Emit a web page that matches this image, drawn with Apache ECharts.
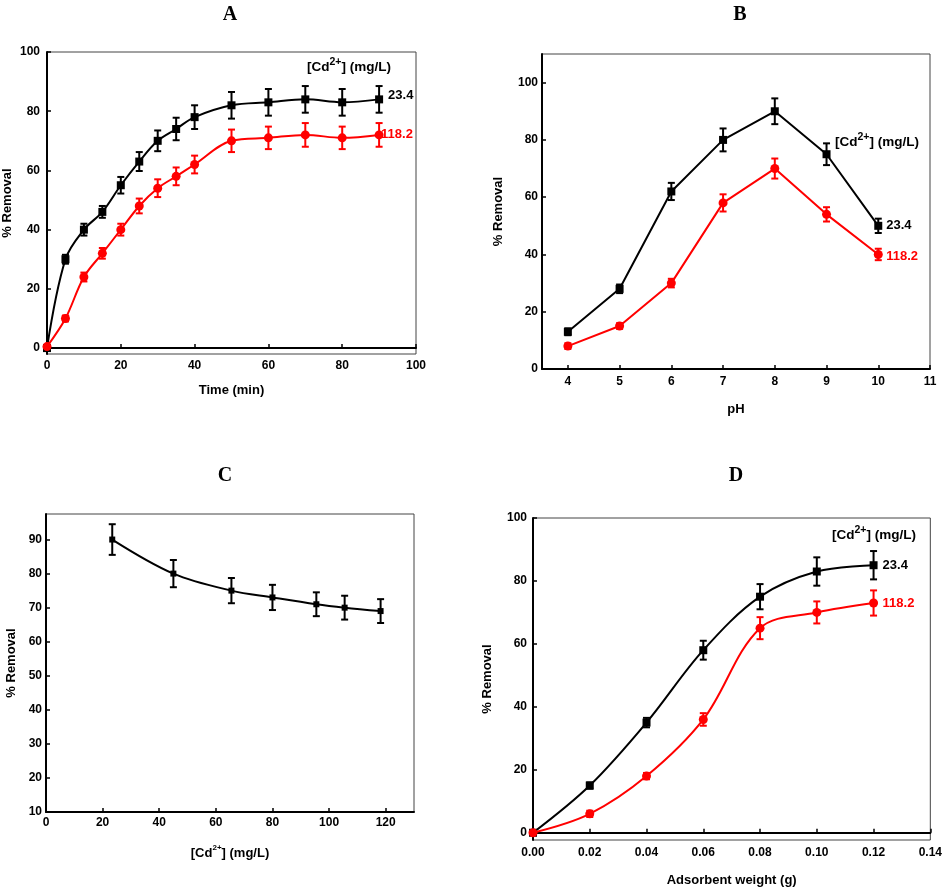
<!DOCTYPE html>
<html><head><meta charset="utf-8">
<script src="https://cdn.jsdelivr.net/npm/echarts@6/dist/echarts.min.js"></script>
<style>html,body{margin:0;padding:0;background:#fff}#c{width:945px;height:888px}</style>
</head><body><div id="c"></div>
<script>
// ---- Panel A: contact time ----
const timeA = [0, 5, 10, 15, 20, 25, 30, 35, 40, 50, 60, 70, 80, 90];
const removalA_low = [0, 30, 40, 46, 55, 63, 70, 74, 78, 82, 83, 84, 83, 84];
const errA_low = [0.5, 1.5, 2, 2, 2.8, 3.2, 3.5, 3.8, 4, 4.5, 4.5, 4.5, 4.5, 4.5];
const removalA_high = [0.5, 10, 24, 32, 40, 48, 54, 58, 62, 70, 71, 72, 71, 72];
const errA_high = [0.5, 1, 1.5, 1.8, 2, 2.5, 3, 3, 3, 3.8, 3.8, 4, 3.8, 4];
// ---- Panel B: pH ----
const pHB = [4, 5, 6, 7, 8, 9, 10];
const removalB_low = [13, 28, 62, 80, 90, 75, 50];
const errB_low = [1.2, 1.5, 3, 4, 4.5, 3.8, 2.5];
const removalB_high = [8, 15, 30, 58, 70, 54, 40];
const errB_high = [1, 1, 1.5, 3, 3.5, 2.5, 2];
// ---- Panel C: initial concentration ----
const concC = [23.4, 45, 65.5, 80, 95.5, 105.5, 118.2];
const removalC = [90, 80, 75, 73, 71, 70, 69];
const errC = [4.5, 4, 3.7, 3.7, 3.5, 3.5, 3.5];
// ---- Panel D: adsorbent weight ----
const weightD = [0, 0.02, 0.04, 0.06, 0.08, 0.10, 0.12];
const removalD_low = [0, 15, 35, 58, 75, 83, 85];
const errD_low = [0.5, 1, 1.5, 3, 4, 4.5, 4.5];
const removalD_high = [0, 6, 18, 36, 65, 70, 73];
const errD_high = [0.5, 1, 1, 2, 3.5, 3.5, 4];
// ---- labels ----
const panelTitles = ['A', 'B', 'C', 'D'];
const concLabels = ['23.4', '118.2'];
const ticksA_x = [0, 20, 40, 60, 80, 100];
const ticksA_y = [0, 20, 40, 60, 80, 100];
const ticksB_x = [4, 5, 6, 7, 8, 9, 10, 11];
const ticksB_y = [0, 20, 40, 60, 80, 100];
const ticksC_x = [0, 20, 40, 60, 80, 100, 120];
const ticksC_y = [10, 20, 30, 40, 50, 60, 70, 80, 90];
const ticksD_x = [0, 0.02, 0.04, 0.06, 0.08, 0.10, 0.12, 0.14];
const ticksD_y = [0, 20, 40, 60, 80, 100];

const BLACK = '#000000', RED = '#ff0000';
const FONT = 'Liberation Sans, Arial, sans-serif';

const chart = echarts.init(document.getElementById('c'), null, {renderer: 'canvas'});

function pairs(xs, ys) { return xs.map((x, i) => [x, ys[i]]); }
function errData(xs, ys, es) { return xs.map((x, i) => [x, ys[i] - es[i], ys[i] + es[i]]); }

function errRender(params, api) {
  const x = api.value(0), lo = api.value(1), hi = api.value(2);
  const p1 = api.coord([x, hi]), p2 = api.coord([x, lo]);
  const w = 3.5;
  const st = {stroke: api.visual('color'), lineWidth: 2};
  return {type: 'group', children: [
    {type: 'line', shape: {x1: p1[0], y1: p1[1], x2: p2[0], y2: p2[1]}, style: st},
    {type: 'line', shape: {x1: p1[0] - w, y1: p1[1], x2: p1[0] + w, y2: p1[1]}, style: st},
    {type: 'line', shape: {x1: p2[0] - w, y1: p2[1], x2: p2[0] + w, y2: p2[1]}, style: st}
  ]};
}

const labelStyle = {color: '#000', fontFamily: FONT, fontWeight: 'bold', fontSize: 12};
const nameStyle = {color: '#000', fontFamily: FONT, fontWeight: 'bold', fontSize: 13,
  rich: {
    n: {color: '#000', fontFamily: FONT, fontWeight: 'bold', fontSize: 13, lineHeight: 18},
    s: {color: '#000', fontFamily: FONT, fontWeight: 'bold', fontSize: 8, lineHeight: 10, verticalAlign: 'top'}
  }};

function xAx(idx, min, max, ticks, name, gap, margin, fmt) {
  return {
    type: 'value', gridIndex: idx, min: min, max: max,
    name: name, nameLocation: 'middle', nameGap: gap, nameTextStyle: nameStyle,
    axisLine: {show: true, lineStyle: {color: '#000', width: 2}},
    axisTick: {show: true, inside: true, length: 4, lineStyle: {color: '#000', width: 1.5}, customValues: ticks},
    axisLabel: Object.assign({margin: margin, customValues: ticks, formatter: fmt || (v => String(v))}, labelStyle),
    splitLine: {show: false}
  };
}
function yAx(idx, min, max, ticks, name, gap, margin) {
  return {
    type: 'value', gridIndex: idx, min: min, max: max,
    name: name, nameLocation: 'middle', nameGap: gap, nameTextStyle: nameStyle,
    axisLine: {show: true, lineStyle: {color: '#000', width: 2}},
    axisTick: {show: true, inside: true, length: 4, lineStyle: {color: '#000', width: 1.5}, customValues: ticks},
    axisLabel: Object.assign({margin: margin, customValues: ticks}, labelStyle),
    splitLine: {show: false}
  };
}

function lineSeries(idx, data, color, symbol, size, smooth, label, dist, dy) {
  return {
    type: 'line', xAxisIndex: idx, yAxisIndex: idx, data: data,
    smooth: smooth, symbol: symbol, symbolSize: size, z: 5,
    lineStyle: {color: color, width: 2}, itemStyle: {color: color},
    endLabel: label ? {show: true, formatter: label, distance: dist, offset: [0, dy || 0],
      color: color, fontFamily: FONT, fontWeight: 'bold', fontSize: 13} : undefined
  };
}
function errSeries(idx, data, color) {
  return {
    type: 'custom', xAxisIndex: idx, yAxisIndex: idx, data: data,
    renderItem: errRender, encode: {x: 0, y: [1, 2]}, itemStyle: {color: color}, z: 4
  };
}

const gridCommon = {show: true, borderColor: '#444', borderWidth: 1, backgroundColor: 'transparent', containLabel: false};
const cdName = '{n|[Cd}{s|2+}{n|] (mg/L)}';

function headerText(x, y) {
  return {
    type: 'text', left: x, top: y,
    style: {
      text: '{n|[Cd}{s|2+}{n|] (mg/L)}',
      rich: {
        n: {fill: '#000', fontFamily: FONT, fontWeight: 'bold', fontSize: 13.5, lineHeight: 21},
        s: {fill: '#000', fontFamily: FONT, fontWeight: 'bold', fontSize: 10.5, lineHeight: 11, verticalAlign: 'top'}
      }
    }
  };
}

const titleStyle = {fontFamily: 'Liberation Serif, Times New Roman, serif', fontWeight: 'bold', fontSize: 20, color: '#000'};

const option = {
  animation: false,
  backgroundColor: '#fff',
  title: [
    {text: panelTitles[0], left: 225, top: 0, textAlign: 'center', textStyle: titleStyle},
    {text: panelTitles[1], left: 735, top: 0, textAlign: 'center', textStyle: titleStyle},
    {text: panelTitles[2], left: 220, top: 461, textAlign: 'center', textStyle: titleStyle},
    {text: panelTitles[3], left: 731, top: 461, textAlign: 'center', textStyle: titleStyle}
  ],
  grid: [
    Object.assign({left: 47, top: 52, width: 369, height: 302}, gridCommon),
    Object.assign({left: 542, top: 54, width: 388, height: 315}, gridCommon),
    Object.assign({left: 46, top: 514, width: 368, height: 298}, gridCommon),
    Object.assign({left: 533, top: 518, width: 398, height: 324}, gridCommon)
  ],
  xAxis: [
    xAx(0, 0, 100, ticksA_x, 'Time (min)', 30, 6),
    xAx(1, 3.5, 11, ticksB_x, 'pH', 34, 7),
    xAx(2, 0, 130, ticksC_x, cdName, 32, 5),
    xAx(3, 0, 0.14, ticksD_x, 'Adsorbent weight (g)', 34, 7, v => v.toFixed(2))
  ],
  yAxis: [
    yAx(0, -2, 100, ticksA_y, '% Removal', 33, 7),
    yAx(1, 0, 110, ticksB_y, '% Removal', 37, 4),
    yAx(2, 10, 97.5, ticksC_y, '% Removal', 28, 4),
    yAx(3, -2.3, 100, ticksD_y, '% Removal', 39, 6)
  ],
  graphic: [headerText(307, 57), headerText(835, 132), headerText(832, 525)],
  series: [
    errSeries(0, errData(timeA, removalA_low, errA_low), BLACK),
    errSeries(0, errData(timeA, removalA_high, errA_high), RED),
    lineSeries(0, pairs(timeA, removalA_low), BLACK, 'rect', 8, 0.35, concLabels[0], 9, -4),
    lineSeries(0, pairs(timeA, removalA_high), RED, 'circle', 9, 0.35, concLabels[1], 2, 0),

    errSeries(1, errData(pHB, removalB_low, errB_low), BLACK),
    errSeries(1, errData(pHB, removalB_high, errB_high), RED),
    lineSeries(1, pairs(pHB, removalB_low), BLACK, 'rect', 8, false, concLabels[0], 8, 0),
    lineSeries(1, pairs(pHB, removalB_high), RED, 'circle', 9, false, concLabels[1], 8, 2),

    errSeries(2, errData(concC, removalC, errC), BLACK),
    lineSeries(2, pairs(concC, removalC), BLACK, 'rect', 6, 0.35, null),

    errSeries(3, errData(weightD, removalD_low, errD_low), BLACK),
    errSeries(3, errData(weightD, removalD_high, errD_high), RED),
    lineSeries(3, pairs(weightD, removalD_low), BLACK, 'rect', 8, 0.35, concLabels[0], 9, 0),
    lineSeries(3, pairs(weightD, removalD_high), RED, 'circle', 9, 0.35, concLabels[1], 9, 0)
  ]
};
chart.setOption(option);
</script>
</body></html>
